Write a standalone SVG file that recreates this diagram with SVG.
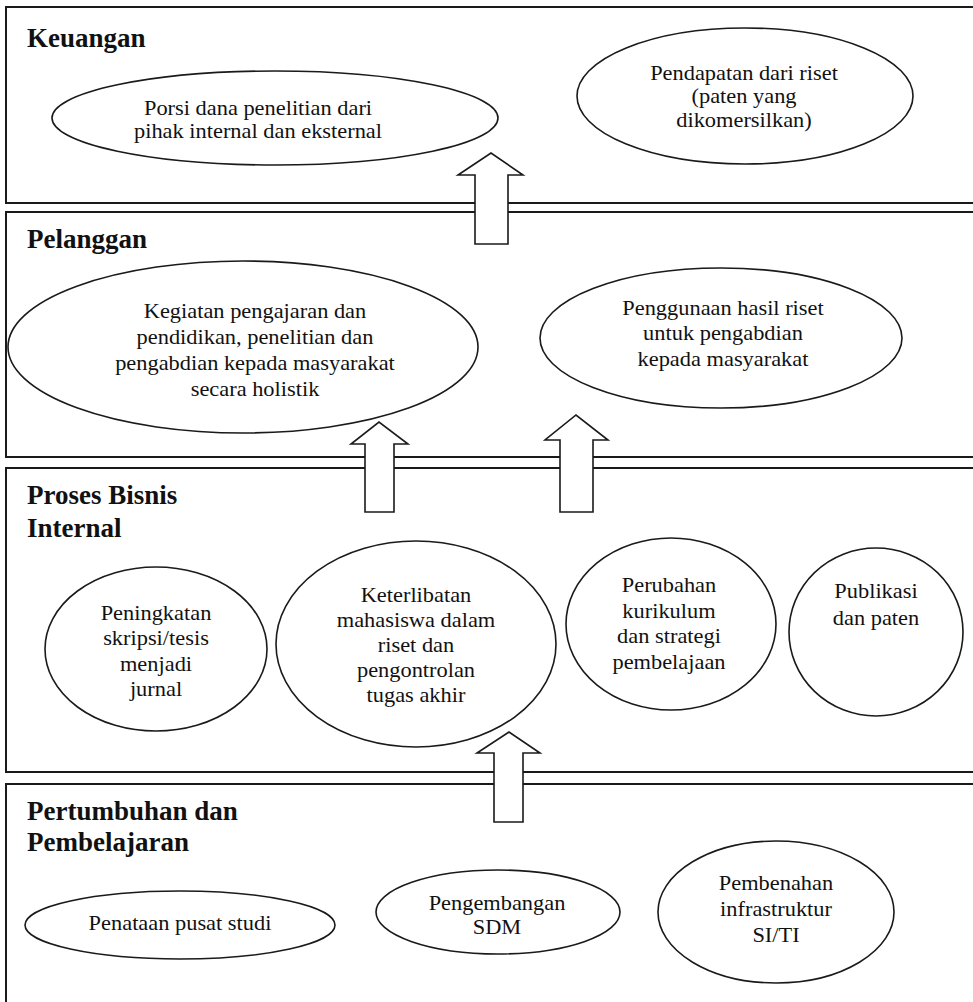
<svg xmlns="http://www.w3.org/2000/svg" width="973" height="1002" viewBox="0 0 973 1002">
<style>
.box{fill:none;stroke:#1a1a1a;stroke-width:2}
.title{font-family:"Liberation Serif","DejaVu Serif",serif;font-weight:bold;font-size:27px;fill:#111}
.node ellipse{fill:none;stroke:#1a1a1a;stroke-width:1.6}
.lbl{font-family:"Liberation Serif","DejaVu Serif",serif;font-weight:normal;font-size:20px;fill:#111;text-anchor:middle}
.arrow{fill:#fff;stroke:#1a1a1a;stroke-width:1.6;stroke-linejoin:miter}
</style>
<rect width="973" height="1002" fill="#fff"/>
<g id="sec-keuangan">
<rect class="box" x="6" y="7" width="980" height="196"/>
<text class="title" x="27" y="47">Keuangan</text>
</g>
<g id="sec-pelanggan">
<rect class="box" x="6" y="212" width="980" height="245"/>
<text class="title" x="27" y="248">Pelanggan</text>
</g>
<g id="sec-proses">
<rect class="box" x="6" y="468" width="980" height="304"/>
<text class="title" x="27" y="504">Proses Bisnis</text>
<text class="title" x="27" y="537">Internal</text>
</g>
<g id="sec-pertumbuhan">
<rect class="box" x="6" y="784" width="980" height="300"/>
<text class="title" x="27" y="820">Pertumbuhan dan</text>
<text class="title" x="27" y="851">Pembelajaran</text>
</g>

<g id="node-porsi" class="node">
<ellipse cx="275" cy="118" rx="223" ry="47"/>
<g transform="translate(258,115) scale(1.12,1)">
<text class="lbl" x="0" y="0">Porsi dana penelitian dari</text>
<text class="lbl" x="0" y="23">pihak internal dan eksternal</text>
</g>
</g>
<g id="node-pendapatan" class="node">
<ellipse cx="745" cy="96" rx="168" ry="68"/>
<g transform="translate(744,80) scale(1.12,1)">
<text class="lbl" x="0" y="0">Pendapatan dari riset</text>
<text class="lbl" x="0" y="23.5">(paten yang</text>
<text class="lbl" x="0" y="47">dikomersilkan)</text>
</g>
</g>
<g id="node-kegiatan" class="node">
<ellipse cx="243" cy="347" rx="235" ry="86"/>
<g transform="translate(255,318) scale(1.12,1)">
<text class="lbl" x="0" y="0">Kegiatan pengajaran dan</text>
<text class="lbl" x="0" y="26">pendidikan, penelitian dan</text>
<text class="lbl" x="0" y="52">pengabdian kepada masyarakat</text>
<text class="lbl" x="0" y="78">secara holistik</text>
</g>
</g>
<g id="node-penggunaan" class="node">
<ellipse cx="721" cy="338" rx="181" ry="70"/>
<g transform="translate(723,315) scale(1.12,1)">
<text class="lbl" x="0" y="0">Penggunaan hasil riset</text>
<text class="lbl" x="0" y="25.5">untuk pengabdian</text>
<text class="lbl" x="0" y="51">kepada masyarakat</text>
</g>
</g>
<g id="node-peningkatan" class="node">
<ellipse cx="156" cy="649" rx="111" ry="82"/>
<g transform="translate(156,620) scale(1.12,1)">
<text class="lbl" x="0" y="0">Peningkatan</text>
<text class="lbl" x="0" y="25.3">skripsi/tesis</text>
<text class="lbl" x="0" y="50.6">menjadi</text>
<text class="lbl" x="0" y="75.9">jurnal</text>
</g>
</g>
<g id="node-keterlibatan" class="node">
<ellipse cx="416" cy="644" rx="140" ry="103"/>
<g transform="translate(416,602) scale(1.12,1)">
<text class="lbl" x="0" y="0">Keterlibatan</text>
<text class="lbl" x="0" y="25">mahasiswa dalam</text>
<text class="lbl" x="0" y="50">riset dan</text>
<text class="lbl" x="0" y="75">pengontrolan</text>
<text class="lbl" x="0" y="100">tugas akhir</text>
</g>
</g>
<g id="node-perubahan" class="node">
<ellipse cx="671" cy="624" rx="105" ry="86"/>
<g transform="translate(669,592) scale(1.12,1)">
<text class="lbl" x="0" y="0">Perubahan</text>
<text class="lbl" x="0" y="25.7">kurikulum</text>
<text class="lbl" x="0" y="51.4">dan strategi</text>
<text class="lbl" x="0" y="77.1">pembelajaan</text>
</g>
</g>
<g id="node-publikasi" class="node">
<ellipse cx="876" cy="632" rx="87" ry="84"/>
<g transform="translate(876,598) scale(1.12,1)">
<text class="lbl" x="0" y="0">Publikasi</text>
<text class="lbl" x="0" y="27">dan paten</text>
</g>
</g>
<g id="node-penataan" class="node">
<ellipse cx="180" cy="925" rx="155" ry="34"/>
<g transform="translate(180,930) scale(1.12,1)">
<text class="lbl" x="0" y="0">Penataan pusat studi</text>
</g>
</g>
<g id="node-pengembangan" class="node">
<ellipse cx="498" cy="912" rx="122" ry="42"/>
<g transform="translate(497,910) scale(1.12,1)">
<text class="lbl" x="0" y="0">Pengembangan</text>
<text class="lbl" x="0" y="24">SDM</text>
</g>
</g>
<g id="node-pembenahan" class="node">
<ellipse cx="776" cy="912" rx="118" ry="71"/>
<g transform="translate(776,890) scale(1.12,1)">
<text class="lbl" x="0" y="0">Pembenahan</text>
<text class="lbl" x="0" y="26">infrastruktur</text>
<text class="lbl" x="0" y="52">SI/TI</text>
</g>
</g>

<g id="connectors">
<path class="arrow" d="M475,244 V175 H458 L491,153 L523,175 H508 V244 Z"/>
<path class="arrow" d="M365,512 V444 H351 L379,422 L408,444 H394 V512 Z"/>
<path class="arrow" d="M560,512 V440 H545 L576,415 L608,440 H593 V512 Z"/>
<path class="arrow" d="M494,822 V753 H477 L509,732 L540,753 H523 V822 Z"/>
</g>
</svg>
